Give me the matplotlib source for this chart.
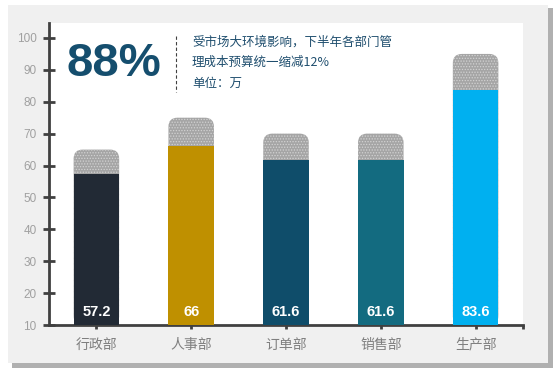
import matplotlib
matplotlib.use("Agg")
import matplotlib.pyplot as plt
from matplotlib.patches import Rectangle, FancyBboxPatch

plt.rcParams['font.family'] = ['Noto Sans CJK SC', 'DejaVu Sans']
plt.rcParams['hatch.linewidth'] = 0.6

categories = ['行政部', '人事部', '订单部', '销售部', '生产部']
actual = [57.2, 66, 61.6, 61.6, 83.6]
budget = [65, 75, 70, 70, 95]
value_labels = ['57.2', '66', '61.6', '61.6', '83.6']
bar_colors = ['#222a35', '#bf9000', '#0f4d6a', '#136b80', '#00b0f0']
yticks = [10, 20, 30, 40, 50, 60, 70, 80, 90, 100]
big_text = '88%'
note_lines = ['受市场大环境影响，下半年各部门管', '理成本预算统一缩减12%', '单位：万']

NARROW = ['Liberation Sans Narrow', 'Liberation Sans', 'DejaVu Sans']

W, H = 560, 375
fig = plt.figure(figsize=(W / 100, H / 100), dpi=100, facecolor='white')

# background panel with shadow
fig.patches.append(Rectangle((12 / W, 1 - 368 / H), 541 / W, 360 / H,
                             transform=fig.transFigure, facecolor='#b0b0b0',
                             edgecolor='none', zorder=-20))
fig.patches.append(Rectangle((8 / W, 1 - 363 / H), 540 / W, 358 / H,
                             transform=fig.transFigure, facecolor='#f0f0f0',
                             edgecolor='none', zorder=-10))

ax = fig.add_axes([49 / W, 1 - 325 / H, (523 - 49) / W, (325 - 23) / H])
ax.set_zorder(1)
ax.set_facecolor('white')
ymin, ymax = 10, 104.7
ax.set_xlim(-0.5, 4.5)
ax.set_ylim(ymin, ymax)

x = list(range(len(categories)))
bw = 0.48

# px per data unit
px_x = (523 - 49) / 5.0
px_y = (325 - 23) / (ymax - ymin)
r_px = 9
r = r_px / px_x
ma = px_x / px_y

gray_bars = ax.bar(x, [b - ymin for b in budget], bottom=ymin, width=bw,
                   color='none', edgecolor='none')
for p in gray_bars.patches:
    fb = FancyBboxPatch((p.get_x(), p.get_y()), p.get_width(), p.get_height(),
                        boxstyle=f"round,pad=0,rounding_size={r}",
                        mutation_aspect=ma, facecolor='#a5a5a5',
                        edgecolor='#d2d2d2', linewidth=0, hatch='......',
                        zorder=2)
    ax.add_patch(fb)

ax.bar(x, [a - ymin for a in actual], bottom=ymin, width=bw,
       color=bar_colors, edgecolor='none', zorder=3)

for i, lab in enumerate(value_labels):
    ax.annotate(lab, xy=(i, ymin), xytext=(0, 9.5), textcoords='offset points',
                ha='center', va='center', color='white', fontsize=10.5,
                fontweight='bold', family=NARROW, zorder=4)

# spines and ticks
for s in ['top', 'right']:
    ax.spines[s].set_visible(False)
for s in ['left', 'bottom']:
    ax.spines[s].set_color('#404040')
    ax.spines[s].set_linewidth(2)

ax.set_yticks(yticks)
ax.set_yticklabels([str(t) for t in yticks], color='#a0a0a0', fontsize=8.5,
                   family=NARROW)
ax.tick_params(axis='y', direction='inout', length=8, width=2, color='#404040', pad=5)

ax.set_xticks(x)
ax.set_xticklabels(categories, color='#7f7f7f', fontsize=10)
ax.set_xticks([4.5], minor=True)
ax.tick_params(axis='x', which='both', direction='out', length=3, width=2,
               color='#404040', pad=6)

# big percentage text
fig.text(114 / W, 1 - 64 / H, big_text, color='#154e6e', fontsize=34,
         fontweight='bold', family=NARROW, ha='center', va='center')

# dashed divider
fig.add_artist(plt.Line2D([176 / W, 176 / W], [1 - 36 / H, 1 - 92 / H],
                          transform=fig.transFigure, color='#404040',
                          linewidth=0.8, linestyle=(0, (3, 2))))

for k, line in enumerate(note_lines):
    fig.text(192 / W, 1 - (42 + 20.5 * k) / H, line, color='#1f4e6e',
             fontsize=9, ha='left', va='center')

fig.savefig('out.png', dpi=100, facecolor=fig.get_facecolor())
